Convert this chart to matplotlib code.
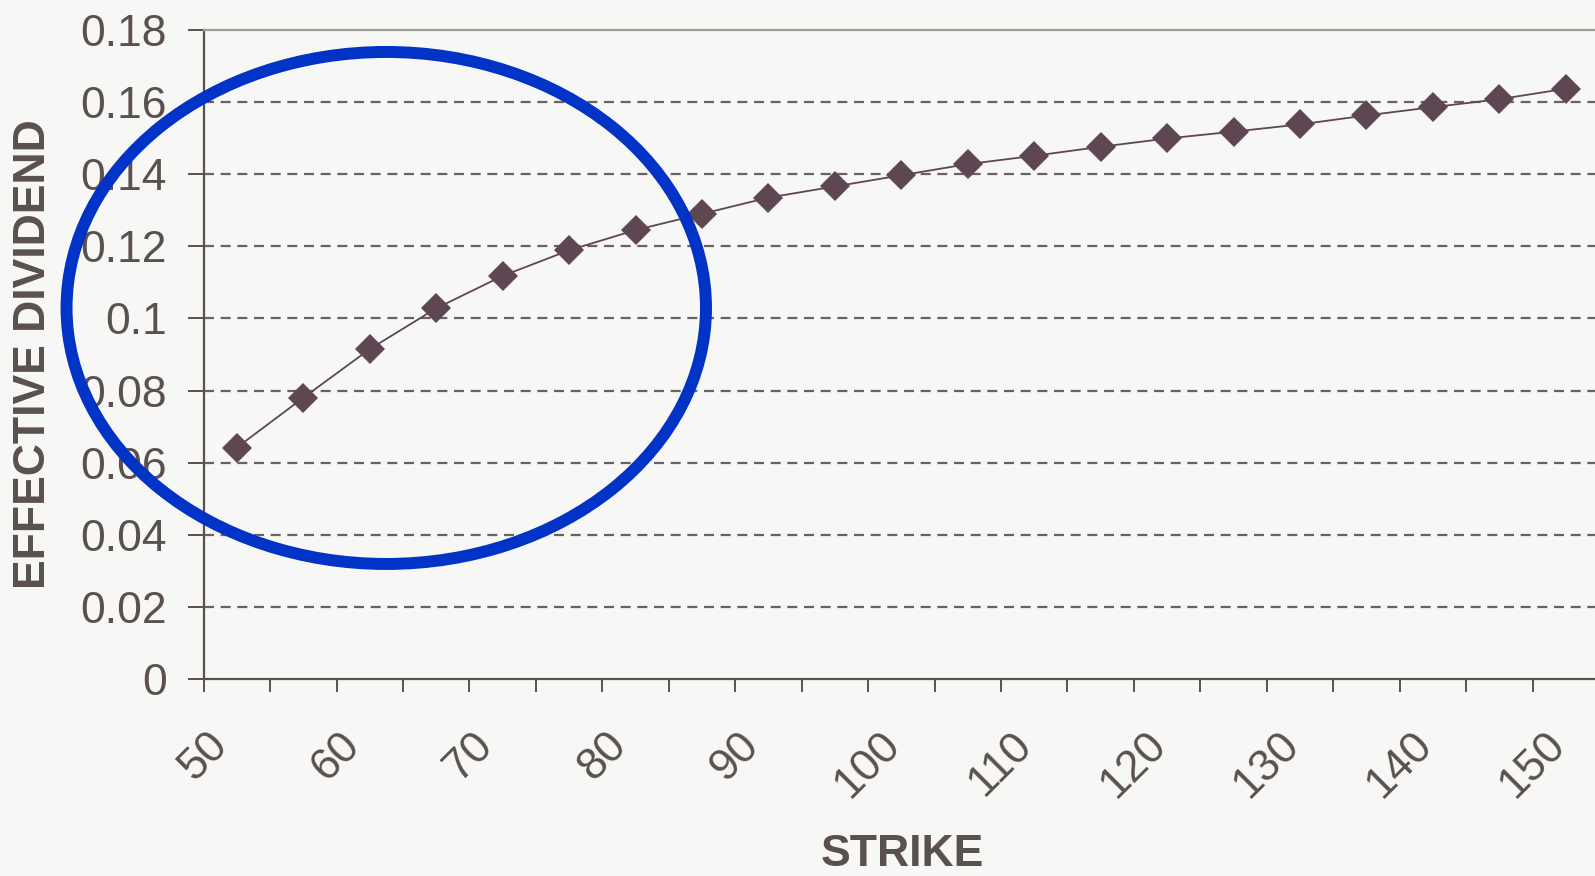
import matplotlib
matplotlib.use("Agg")
import matplotlib.pyplot as plt
from matplotlib.patches import Ellipse
from matplotlib.ticker import MultipleLocator

# effective dividend by strike (points sit mid-category)
strikes = [52.5, 57.5, 62.5, 67.5, 72.5, 77.5, 82.5, 87.5, 92.5, 97.5, 102.5,
           107.5, 112.5, 117.5, 122.5, 127.5, 132.5, 137.5, 142.5, 147.5, 152.5]
eff_div = [0.0642, 0.0780, 0.0915, 0.1028, 0.1118, 0.1189, 0.1245, 0.1290,
           0.1335, 0.1366, 0.1397, 0.1428, 0.1451, 0.1476, 0.1499, 0.1518,
           0.1538, 0.1563, 0.1586, 0.1608, 0.1637]

bg = "#f7f7f5"
txt = "#5a5050"
mark = "#5e4652"

plt.rcParams["font.family"] = ["Liberation Sans", "DejaVu Sans"]

fig = plt.figure(figsize=(15.95, 8.76), dpi=100, facecolor=bg)
ax = fig.add_axes([0.1277, 0.2249, 0.8723, 0.7409], facecolor=bg)

ax.plot(strikes, eff_div, color=mark, lw=1.3, marker="D", ms=15,
        mec=mark, mew=0, mfc=mark, zorder=3)

ax.set_xlim(50, 154.7)
ax.set_ylim(0, 0.18)

ax.set_yticks([0, 0.02, 0.04, 0.06, 0.08, 0.1, 0.12, 0.14, 0.16, 0.18])
ax.set_yticklabels(["0", "0.02", "0.04", "0.06", "0.08", "0.1", "0.12",
                    "0.14", "0.16", "0.18"])
ax.xaxis.set_major_locator(MultipleLocator(10))
ax.xaxis.set_minor_locator(MultipleLocator(5))

for y in [0.02, 0.04, 0.06, 0.08, 0.1, 0.12, 0.14, 0.16]:
    ax.axhline(y, color="#6a6262", lw=1.6, ls=(0, (4.5, 3)), zorder=1)

for s in ["left", "bottom"]:
    ax.spines[s].set_color(txt)
    ax.spines[s].set_linewidth(1.6)
ax.spines["top"].set_color("#a09a98")
ax.spines["top"].set_linewidth(1.6)
ax.spines["right"].set_visible(False)

ax.tick_params(axis="y", length=11.5, width=1.4, color=txt, pad=15,
               labelsize=32, labelcolor=txt)
ax.tick_params(axis="x", which="both", length=9.5, width=1.4, color=txt)
ax.tick_params(axis="x", which="major", pad=23, labelsize=32,
               labelcolor=txt, labelrotation=45)
for lab in ax.get_xticklabels():
    lab.set_ha("center")

ax.set_ylabel("EFFECTIVE DIVIDEND", fontsize=32, fontweight="bold",
              color=txt, va="center")
ax.yaxis.set_label_coords(-0.122, 0.5)
ax.set_xlabel("STRIKE", fontsize=32, fontweight="bold", color=txt,
              va="center")
ax.xaxis.set_label_coords(0.502, -0.270)

# highlight ring around the low strikes
ring = Ellipse((63.74, 0.1029), 48.12, 0.1420, fill=False,
               ec="#0033c6", lw=8.6, clip_on=False, zorder=5)
ax.add_patch(ring)

fig.savefig("out.png", dpi=100, facecolor=bg)
